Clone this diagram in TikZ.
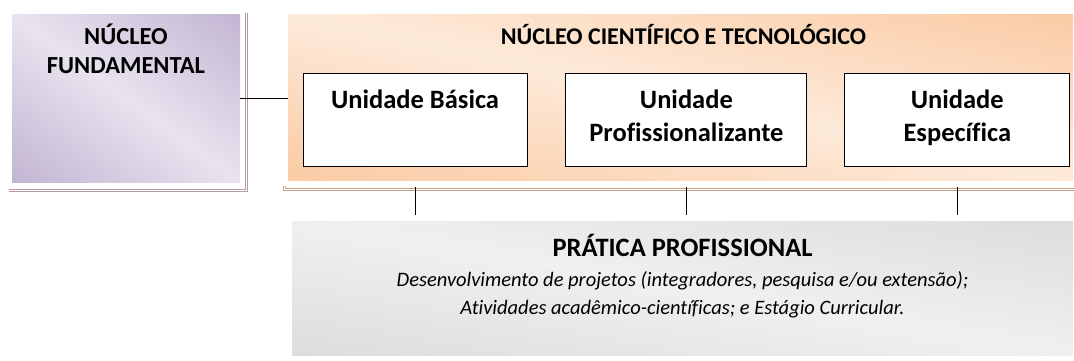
\documentclass[tikz,border=0pt]{standalone}
\usepackage{fontspec}
\setmainfont{Carlito}[Ligatures=NoCommon]
\usepackage{xcolor}
\usetikzlibrary{positioning}
\definecolor{lilas}{HTML}{B3A2C7}
\definecolor{lilasclaro}{HTML}{E8E3EF}
\definecolor{laranja}{HTML}{F9BE8E}
\definecolor{laranjaclaro}{HTML}{FDEADA}
\definecolor{cinza}{HTML}{D5D5D5}
\definecolor{cinzaclaro}{HTML}{F0F0F0}
\definecolor{sombralilas}{HTML}{B49A9A}
\definecolor{sombralaranja}{HTML}{C9A286}
\pgfdeclareverticalshading{lilasdiag}{100bp}{color(0bp)=(lilas); color(50bp)=(lilasclaro); color(100bp)=(lilas)}
\pgfdeclareverticalshading{laranjadiag}{100bp}{color(0bp)=(laranja); color(50bp)=(laranjaclaro); color(100bp)=(laranja)}
\pgfdeclareverticalshading{cinzadiag}{100bp}{color(0bp)=(cinza); color(50bp)=(cinzaclaro); color(100bp)=(cinza)}
\tikzset{%
	fundo/.style      = {rectangle, inner sep=0pt},
	lilasbox/.style   = {shading=lilasdiag, shading angle=-45},
	laranjabox/.style = {shading=laranjadiag, shading angle=-45},
	cinzabox/.style   = {shading=cinzadiag, shading angle=-45},
	unidade/.style    = {draw, rectangle, fill=white, line width=0.9pt, minimum height=93pt},
	texto/.style      = {inner sep=0pt, align=center, anchor=base},
	sombra/.style     = {line width=0.9pt, double=white, double distance=1.3pt},
	liga/.style       = {line width=1pt},
}

\begin{document}
\begin{tikzpicture}[x=1pt,y=-1pt]
	\useasboundingbox (0,0) rectangle (1074,360);
	
	\node[fundo, minimum width=228pt, minimum height=168pt] (fund) at (126,98) {};
	\node[fundo, minimum width=785pt, minimum height=166pt] (cient) at (680.5,97) {};
	\node[fundo, minimum width=781pt, minimum height=134pt] (prat) at (682.5,288) {};
	\shade[lilasbox, transform canvas={shift={(fund.center)}, xscale=228/168}] (-84,-84) rectangle (84,84);
	\shade[laranjabox, transform canvas={shift={(cient.center)}, xscale=785/166}] (-83,-83) rectangle (83,83);
	\shade[cinzabox, transform canvas={shift={(prat.center)}, xscale=781/134}] (-67,-67) rectangle (67,67);
	
	\draw[sombra, sombralilas] ([shift={(6,-1)}]fund.north east) -- ([shift={(6,8)}]fund.south east) -- ([shift={(-3,8)}]fund.south west);
	\draw[sombra, sombralaranja] ([shift={(-3,6)}]cient.south west) -- ([shift={(-3,9.5)}]cient.south west) -- ([shift={(1,9.5)}]cient.south east);
	
	\node[unidade, minimum width=224pt] (ub) at (415,119.5) {};
	\node[unidade, minimum width=241pt, right=38pt of ub] (up) {};
	\node[unidade, minimum width=225pt, right=37pt of up] (ue) {};
	
	\node[texto, yshift=-60pt, font=\bfseries\fontsize{24.5}{29}\selectfont] (fundtxt) at (fund.north) {NÚCLEO\\FUNDAMENTAL};
	\node[texto, yshift=-31pt, xshift=3pt, font=\bfseries\fontsize{24}{28}\selectfont] (cienttxt) at (cient.north) {NÚCLEO CIENTÍFICO E TECNOLÓGICO};
	\node[texto, yshift=-36pt, font=\bfseries\fontsize{26.5}{33}\selectfont] (ubtxt) at (ub.north) {Unidade Básica};
	\node[texto, yshift=-69pt, font=\bfseries\fontsize{26.5}{33}\selectfont] (uptxt) at (up.north) {Unidade\\Profissionalizante};
	\node[texto, yshift=-69pt, font=\bfseries\fontsize{26.5}{33}\selectfont] (uetxt) at (ue.north) {Unidade\\Específica};
	\node[texto, yshift=-36pt, font=\bfseries\fontsize{26.5}{30}\selectfont] (pttxt) at (prat.north) {PRÁTICA PROFISSIONAL};
	\node[texto, yshift=-58pt, font=\itshape\fontsize{20.5}{28}\selectfont] (pdtxt) at (pttxt.base) {Desenvolvimento de projetos (integradores, pesquisa e/ou extensão);\\Atividades acadêmico-científicas; e Estágio Curricular.};
	
	\draw[liga] (fund.east) -- (fund.east -| cient.west);
	\foreach \u in {ub,up,ue}
		\draw[liga, shorten <=7pt, shorten >=6pt] (\u |- cient.south) -- (\u |- prat.north);
\end{tikzpicture}
\end{document}
